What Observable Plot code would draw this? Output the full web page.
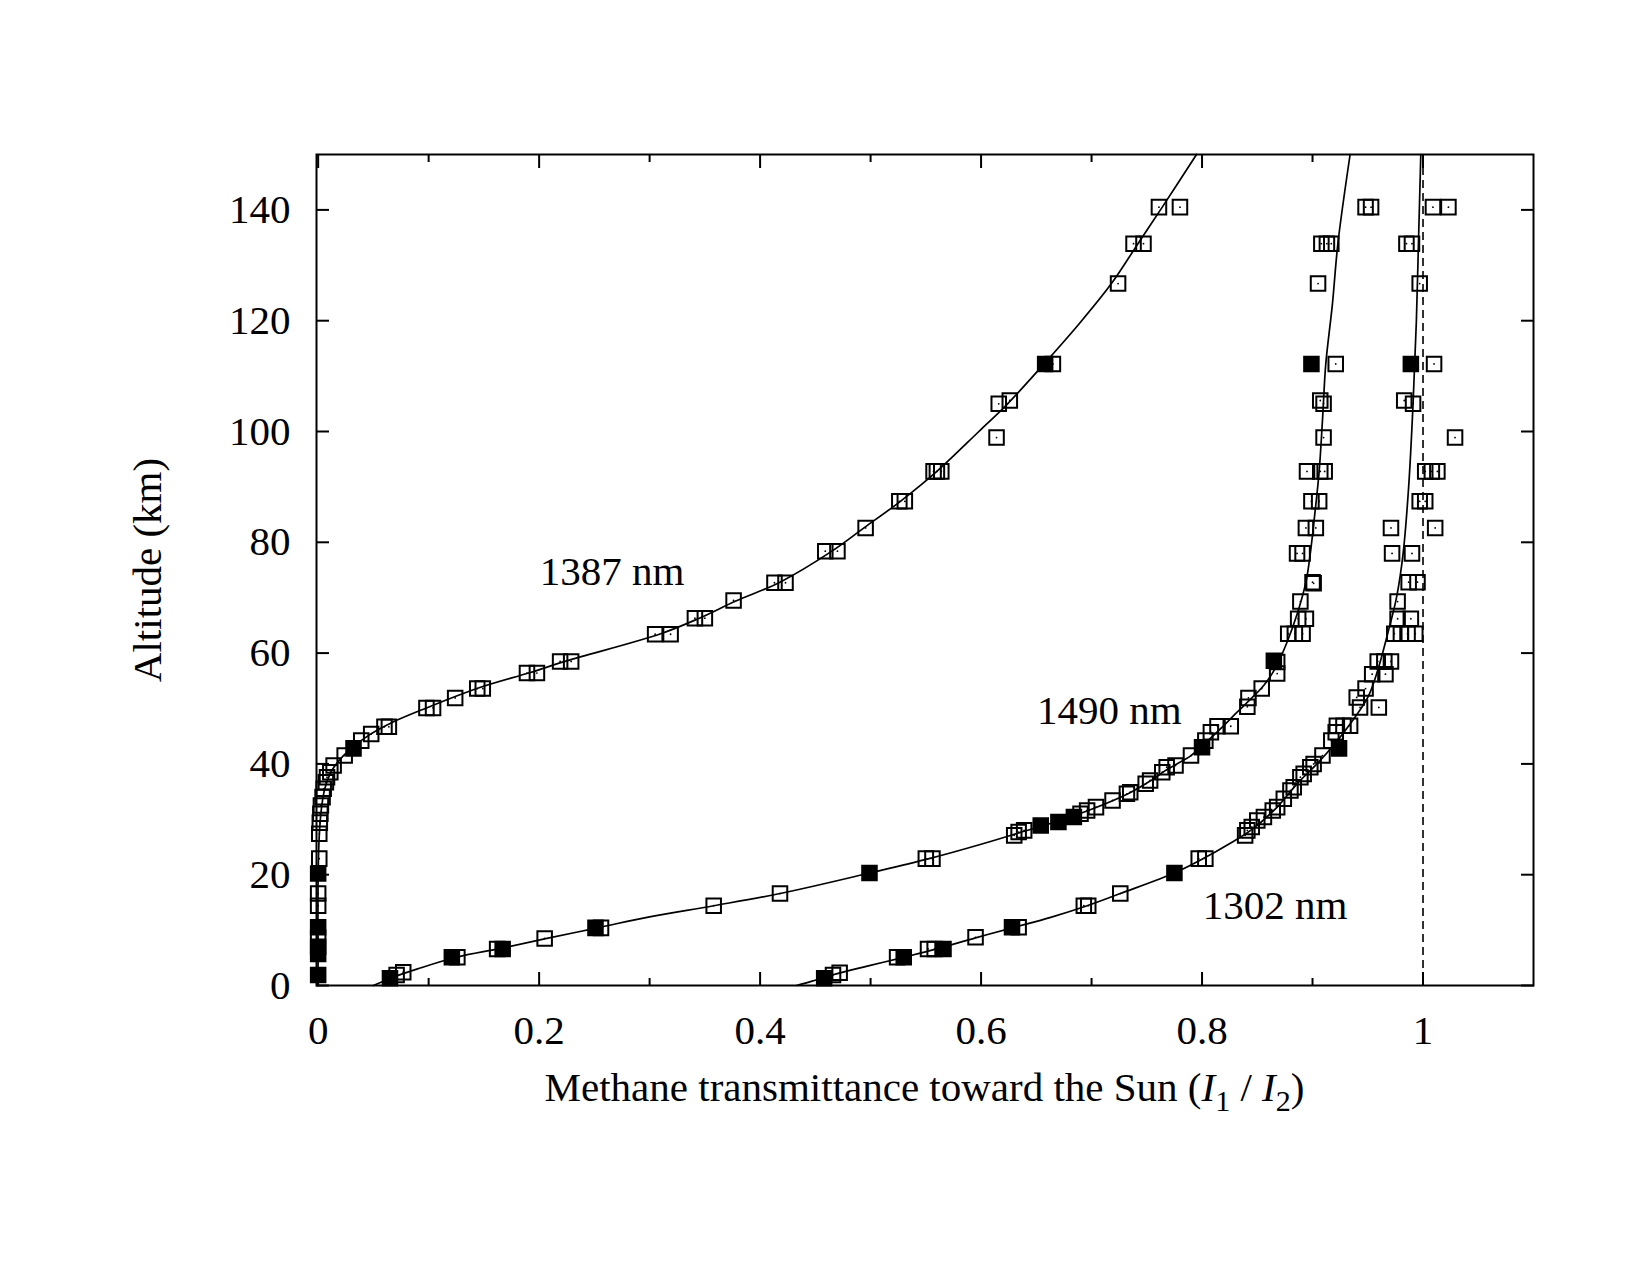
<!DOCTYPE html>
<html>
<head>
<meta charset="utf-8">
<script src="https://cdn.jsdelivr.net/npm/d3@7"></script>
<script src="https://cdn.jsdelivr.net/npm/@observablehq/plot@0.6"></script>
<style>
  body { margin: 0; background: #fff; }
  svg { display: block; }
</style>
</head>
<body>
<div id="chart"></div>
<script>
// ---- tick values ----
const xTicks = [0, 0.2, 0.4, 0.6, 0.8, 1];
const xMinorTicks = [0.1, 0.3, 0.5, 0.7, 0.9];
const yTicks = [0, 20, 40, 60, 80, 100, 120, 140];

// ---- measured points: [transmittance, altitude km, filled(1)/open(0)] ----
const points1387 = [
  [0.000, 1.9, 1], [0.000, 5.7, 1], [0.000, 7.0, 1], [0.000, 8.6, 0], [0.000, 10.5, 1],
  [0.000, 14.4, 0], [0.000, 16.6, 0], [0.000, 20.2, 1], [0.001, 22.9, 0],
  [0.001, 27.4, 0], [0.0015, 29.4, 0], [0.002, 31.0, 0], [0.0025, 32.5, 0], [0.004, 34.0, 0],
  [0.005, 35.5, 0], [0.007, 36.7, 0], [0.008, 37.6, 0], [0.011, 38.5, 0], [0.014, 39.7, 0],
  [0.024, 41.5, 0], [0.032, 42.8, 1], [0.039, 44.2, 0], [0.048, 45.4, 0], [0.060, 46.7, 0],
  [0.064, 46.7, 0], [0.098, 50.1, 0], [0.104, 50.1, 0], [0.124, 51.9, 0], [0.144, 53.6, 0],
  [0.149, 53.6, 0], [0.189, 56.4, 0], [0.198, 56.4, 0], [0.219, 58.5, 0], [0.229, 58.5, 0],
  [0.305, 63.4, 0], [0.319, 63.4, 0], [0.341, 66.3, 0], [0.350, 66.3, 0], [0.376, 69.5, 0],
  [0.413, 72.7, 0], [0.423, 72.7, 0], [0.459, 78.4, 0], [0.470, 78.4, 0], [0.4955, 82.6, 0],
  [0.526, 87.4, 0], [0.531, 87.4, 0], [0.557, 92.8, 0], [0.560, 92.8, 0], [0.564, 92.8, 0],
  [0.614, 98.9, 0], [0.616, 105.0, 0], [0.626, 105.6, 0], [0.658, 112.2, 1], [0.665, 112.2, 0],
  [0.724, 126.7, 0], [0.738, 133.9, 0], [0.747, 133.9, 0], [0.761, 140.5, 0], [0.780, 140.5, 0]
];
const points1490 = [
  [0.065, 1.3, 1], [0.071, 1.9, 0], [0.077, 2.4, 0], [0.121, 5.1, 1], [0.126, 5.1, 0],
  [0.162, 6.6, 0], [0.167, 6.6, 1], [0.205, 8.5, 0], [0.251, 10.4, 1], [0.256, 10.4, 0],
  [0.358, 14.4, 0], [0.418, 16.6, 0], [0.499, 20.3, 1], [0.550, 22.9, 0], [0.556, 22.9, 0],
  [0.630, 27.1, 0], [0.634, 27.7, 0], [0.639, 28.0, 0], [0.654, 28.9, 1], [0.670, 29.5, 1],
  [0.684, 30.4, 1], [0.690, 31.0, 0], [0.696, 31.6, 0], [0.704, 32.2, 0], [0.719, 33.4, 0],
  [0.732, 34.6, 0], [0.735, 34.9, 0], [0.749, 36.4, 0], [0.753, 37.0, 0], [0.764, 38.5, 0],
  [0.768, 39.4, 0], [0.776, 39.7, 0], [0.790, 41.5, 0], [0.800, 43.0, 1], [0.803, 44.2, 0],
  [0.808, 45.7, 0], [0.814, 46.8, 0], [0.826, 46.8, 0], [0.841, 50.3, 0], [0.842, 51.9, 0],
  [0.854, 53.6, 0], [0.868, 56.3, 0], [0.865, 58.6, 1], [0.868, 58.4, 0], [0.878, 63.5, 0],
  [0.884, 63.5, 0], [0.891, 63.5, 0], [0.887, 66.2, 0], [0.894, 66.2, 0], [0.889, 69.3, 0],
  [0.900, 72.8, 0], [0.901, 72.6, 0], [0.886, 78.0, 0], [0.891, 78.0, 0], [0.894, 82.6, 0],
  [0.903, 82.6, 0], [0.899, 87.4, 0], [0.906, 87.4, 0], [0.895, 92.8, 0], [0.907, 92.8, 0],
  [0.911, 92.8, 0], [0.910, 98.9, 0], [0.907, 105.6, 0], [0.910, 105.0, 0], [0.899, 112.2, 1],
  [0.921, 112.2, 0], [0.905, 126.7, 0], [0.908, 133.9, 0], [0.913, 133.9, 0], [0.917, 133.9, 0],
  [0.948, 140.5, 0], [0.953, 140.5, 0]
];
const points1302 = [
  [0.458, 1.3, 1], [0.466, 1.9, 0], [0.472, 2.3, 0], [0.524, 5.1, 0], [0.530, 5.1, 1],
  [0.552, 6.6, 0], [0.558, 6.6, 0], [0.566, 6.6, 1], [0.595, 8.7, 0], [0.628, 10.5, 1],
  [0.634, 10.5, 0], [0.693, 14.4, 0], [0.697, 14.4, 0], [0.726, 16.6, 0], [0.775, 20.3, 1],
  [0.797, 22.9, 0], [0.803, 22.9, 0], [0.839, 27.1, 0], [0.841, 28.0, 0], [0.845, 28.6, 0],
  [0.850, 29.8, 0], [0.856, 30.4, 0], [0.864, 31.6, 0], [0.868, 32.2, 0], [0.874, 33.7, 0],
  [0.880, 35.2, 0], [0.883, 35.8, 0], [0.889, 37.6, 0], [0.892, 38.2, 0], [0.898, 39.4, 0],
  [0.901, 40.0, 0], [0.909, 41.5, 0], [0.924, 42.8, 1], [0.917, 44.2, 0], [0.921, 45.7, 0],
  [0.922, 46.9, 0], [0.928, 46.9, 0], [0.934, 46.9, 0], [0.943, 50.2, 0], [0.960, 50.2, 0],
  [0.940, 52.0, 0], [0.948, 53.6, 0], [0.954, 56.2, 0], [0.966, 56.2, 0], [0.959, 58.5, 0],
  [0.965, 58.5, 0], [0.971, 58.5, 0], [0.974, 63.5, 0], [0.980, 63.5, 0], [0.986, 63.5, 0],
  [0.993, 63.5, 0], [0.977, 66.2, 0], [0.989, 66.2, 0], [0.977, 69.3, 0], [0.987, 72.8, 0],
  [0.995, 72.8, 0], [0.972, 78.0, 0], [0.990, 78.0, 0], [0.971, 82.6, 0], [1.011, 82.6, 0],
  [0.997, 87.4, 0], [1.002, 87.4, 0], [1.002, 92.8, 0], [1.008, 92.8, 0], [1.013, 92.8, 0],
  [1.029, 98.9, 0], [0.983, 105.6, 0], [0.991, 105.0, 0], [0.989, 112.2, 1], [1.010, 112.2, 0],
  [0.997, 126.7, 0], [0.985, 133.9, 0], [0.990, 133.9, 0], [1.009, 140.5, 0], [1.023, 140.5, 0]
];

// ---- fitted model curves: [transmittance, altitude km] ----
const fit1387 = [
  [0.000, 0], [0.000, 20], [0.001, 27], [0.003, 32], [0.006, 35.5], [0.011, 38.3],
  [0.018, 40.4], [0.030, 42.8], [0.046, 45.2], [0.066, 47.4], [0.098, 50.1], [0.145, 53.7],
  [0.192, 56.5], [0.225, 58.6], [0.310, 63.5], [0.345, 66.3], [0.378, 69.4], [0.418, 72.8],
  [0.465, 78.4], [0.494, 82.6], [0.527, 87.4], [0.560, 92.8], [0.598, 100], [0.624, 105],
  [0.657, 112.2], [0.689, 119.5], [0.718, 126.7], [0.742, 133.9], [0.764, 140.5], [0.795, 150]
];
const fit1490 = [
  [0.050, 0], [0.068, 1.5], [0.090, 3], [0.125, 5.1], [0.165, 6.7], [0.207, 8.5],
  [0.255, 10.5], [0.300, 12.4], [0.358, 14.4], [0.418, 16.6], [0.499, 20.3], [0.553, 22.9],
  [0.600, 25.5], [0.635, 27.6], [0.670, 29.7], [0.700, 31.8], [0.733, 34.6], [0.753, 36.9],
  [0.770, 39.2], [0.790, 41.5], [0.802, 43.6], [0.818, 46.6], [0.832, 49.4], [0.843, 51.5],
  [0.856, 54.2], [0.867, 57.5], [0.877, 62], [0.886, 67], [0.894, 72.8], [0.898, 78],
  [0.902, 85], [0.906, 92.8], [0.909, 102], [0.912, 112.2], [0.918, 123], [0.923, 134], [0.934, 150]
];
const fit1302 = [
  [0.433, 0], [0.447, 0.8], [0.465, 1.9], [0.497, 3.5], [0.528, 5.0], [0.560, 6.6],
  [0.595, 8.6], [0.630, 10.5], [0.663, 12.3], [0.696, 14.4], [0.726, 16.6], [0.776, 20.4],
  [0.802, 23.0], [0.824, 25.5], [0.844, 28], [0.868, 32.2], [0.886, 36.4], [0.904, 40],
  [0.920, 43.6], [0.934, 47.2], [0.950, 52], [0.959, 56.9], [0.968, 63.5], [0.976, 70],
  [0.982, 78], [0.987, 90], [0.991, 105], [0.994, 120], [0.996, 135], [0.998, 150]
];

// ---- curve labels: [text, transmittance, altitude] ----
const curveLabels = [
  ["1387 nm", 0.266, 74.6],
  ["1490 nm", 0.716, 49.6],
  ["1302 nm", 0.866, 14.4]
];
const referenceLine = [1];

// ---- build tables ----
const series = [["1387", points1387, fit1387], ["1490", points1490, fit1490], ["1302", points1302, fit1302]];
const pts = series.flatMap(([s, p]) => p.map(([x, y, f]) => ({s, x, y, f})));
const fits = series.flatMap(([s, , c]) => c.map(([x, y]) => ({s, x, y})));
const openPts = pts.filter(d => !d.f);
const filledPts = pts.filter(d => d.f);
const labels = curveLabels.map(([t, x, y]) => ({t, x, y}));

const W = 1650, H = 1275, mL = 316, mR = 117, mT = 154, mB = 290;
const font = "'Liberation Serif', 'Times New Roman', serif";
const tickStyle = {fill: "none", strokeWidth: 2};
const markerR = 8.2;

const plot = Plot.plot({
  width: W, height: H,
  marginLeft: mL, marginRight: mR, marginTop: mT, marginBottom: mB,
  style: {fontFamily: font, fontSize: "41px", background: "white", color: "black"},
  x: {domain: [-0.0015, 1.1], label: null},
  y: {domain: [0, 150], label: null},
  marks: [
    Plot.ruleX(referenceLine, {strokeDasharray: "8,5", strokeWidth: 1.6}),
    Plot.line(fits, {x: "x", y: "y", z: "s", curve: "catmull-rom", strokeWidth: 1.7, stroke: "black"}),
    Plot.dot(openPts, {x: "x", y: "y", symbol: "square", r: markerR, stroke: "black", strokeWidth: 2, fill: "none"}),
    Plot.dot(openPts, {x: "x", y: "y", r: 0.9, fill: "black", stroke: "none"}),
    Plot.dot(filledPts, {x: "x", y: "y", symbol: "square", r: markerR, stroke: "black", strokeWidth: 2, fill: "black"}),
    Plot.text(labels, {x: "x", y: "y", text: "t", textAnchor: "middle", lineAnchor: "middle", fill: "black"}),
    Plot.frame({strokeWidth: 2}),
    Plot.axisX(xTicks, {anchor: "bottom", tickSize: -13, ...tickStyle}),
    Plot.axisX(xMinorTicks, {anchor: "bottom", tickSize: -7, ...tickStyle}),
    Plot.axisX(xTicks, {anchor: "top", tickSize: -13, ...tickStyle}),
    Plot.axisX(xMinorTicks, {anchor: "top", tickSize: -7, ...tickStyle}),
    Plot.axisY(yTicks, {anchor: "left", tickSize: -13, ...tickStyle}),
    Plot.axisY(yTicks, {anchor: "right", tickSize: -13, ...tickStyle}),
    Plot.axisX(xTicks, {anchor: "bottom", tickSize: 0, tickPadding: 29, tickFormat: d => String(d), fill: "black"}),
    Plot.axisY(yTicks, {anchor: "left", tickSize: 0, tickPadding: 26, tickFormat: d => String(d), fill: "black"}),
    Plot.text(["Altitude (km)"], {frameAnchor: "left", dx: -169, rotate: -90, textAnchor: "middle", lineAnchor: "middle", fill: "black"})
  ]
});

// x-axis title with italic I and subscripts
const svg = d3.select(plot);
const t = svg.append("text")
  .attr("x", (mL + W - mR) / 2)
  .attr("y", 1101)
  .attr("text-anchor", "middle")
  .attr("font-family", font)
  .attr("font-size", 41)
  .attr("fill", "black");
t.append("tspan").text("Methane transmittance toward the Sun (");
t.append("tspan").attr("font-style", "italic").text("I");
t.append("tspan").attr("font-size", 30).attr("dy", 10).text("1");
t.append("tspan").attr("dy", -10).text(" / ");
t.append("tspan").attr("font-style", "italic").text("I");
t.append("tspan").attr("font-size", 30).attr("dy", 10).text("2");
t.append("tspan").attr("dy", -10).text(")");

document.getElementById("chart").appendChild(plot);
</script>
</body>
</html>
